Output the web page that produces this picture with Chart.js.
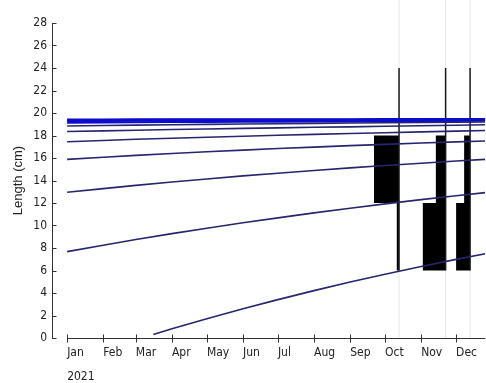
<!DOCTYPE html>
<html>
<head>
<meta charset="utf-8">
<script src="https://cdn.jsdelivr.net/npm/chart.js@4.4.0/dist/chart.umd.min.js"></script>
<style>
  html, body { margin: 0; padding: 0; background: #fff; }
  canvas { display: block; }
</style>
</head>
<body>
<canvas id="chart" width="486" height="383"></canvas>
<script>
// Time axis: day of year (0 = 1 Jan 2021) for each month start
const monthStarts = [0, 31, 59, 90, 120, 151, 181, 212, 243, 273, 304, 334];
const monthLabels = ['Jan', 'Feb', 'Mar', 'Apr', 'May', 'Jun', 'Jul', 'Aug', 'Sep', 'Oct', 'Nov', 'Dec'];
const yearLabel = '2021';

// Growth curves (length in cm) sampled at month starts and the last plotted day
const curveDays = [0, 31, 59, 90, 120, 151, 181, 212, 243, 273, 304, 334, 359];
const recruitDays = [74, 90, 120, 151, 181, 212, 243, 273, 304, 334, 359];
const cohort0 = [0.32, 0.82, 1.71, 2.60, 3.41, 4.21, 4.97, 5.67, 6.36, 6.99, 7.49];
const cohort1 = [7.68, 8.25, 8.75, 9.28, 9.76, 10.24, 10.68, 11.12, 11.54, 11.92, 12.30, 12.64, 12.92];
const cohort2 = [12.95, 13.28, 13.57, 13.87, 14.14, 14.41, 14.65, 14.89, 15.12, 15.33, 15.54, 15.73, 15.88];
const cohort3 = [15.88, 16.07, 16.23, 16.40, 16.55, 16.70, 16.84, 16.97, 17.10, 17.21, 17.33, 17.43, 17.51];
const cohort4 = [17.45, 17.56, 17.66, 17.76, 17.85, 17.94, 18.02, 18.10, 18.18, 18.25, 18.32, 18.39, 18.45];
const cohort5 = [18.35, 18.41, 18.47, 18.53, 18.58, 18.63, 18.68, 18.73, 18.77, 18.82, 18.86, 18.91, 18.95];
const cohort6 = [18.85, 18.89, 18.92, 18.96, 18.99, 19.02, 19.05, 19.08, 19.11, 19.13, 19.16, 19.18, 19.20];
const cohort7 = [19.14, 19.16, 19.17, 19.19, 19.20, 19.22, 19.23, 19.24, 19.25, 19.26, 19.28, 19.29, 19.30];
const cohort8 = [19.28, 19.29, 19.30, 19.31, 19.32, 19.33, 19.33, 19.34, 19.35, 19.36, 19.36, 19.37, 19.38];
const cohort9 = [19.37, 19.38, 19.38, 19.39, 19.39, 19.40, 19.40, 19.41, 19.41, 19.42, 19.42, 19.43, 19.43];
const cohort10 = [19.43, 19.43, 19.44, 19.44, 19.44, 19.45, 19.45, 19.45, 19.45, 19.46, 19.46, 19.46, 19.46];

// Length-frequency samples: sampling day, length classes (cm) and frequency per class
const sampleDays = [285, 325, 346];
const classEdges = [6, 12, 18, 24];
const sampleFreq = [
  [1.0, 10.0, 0],
  [9.2, 4.0, 0],
  [5.6, 2.4, 0]
];
const daysPerFreqUnit = 2.15;

const narrowFont = "'Liberation Sans Narrow', 'DejaVu Sans Condensed', 'Arial Narrow', sans-serif";
const navy = 'rgb(38,38,112)';
const brightBlue = 'rgb(12,12,205)';

const datasets = [];

// faint sampling-date guides
sampleDays.forEach(d => {
  datasets.push({
    data: [{x: d, y: 0}, {x: d, y: 30.2}],
    borderColor: '#e6e6e6', borderWidth: 1, pointRadius: 0, fill: false, clip: false, order: 5
  });
});

// histogram bars, extending left of each sampling date
sampleDays.forEach((d, s) => {
  sampleFreq[s].forEach((f, b) => {
    if (f <= 0) return;
    datasets.push({
      data: [{x: d - f * daysPerFreqUnit, y: classEdges[b + 1]}, {x: d, y: classEdges[b + 1]}],
      borderColor: 'rgba(0,0,0,0)', backgroundColor: '#000', borderWidth: 1,
      pointRadius: 0, fill: {value: classEdges[b]}, order: 4
    });
  });
});

// histogram baselines
sampleDays.forEach(d => {
  datasets.push({
    data: [{x: d, y: classEdges[0]}, {x: d, y: classEdges[classEdges.length - 1]}],
    borderColor: '#1a1a1a', borderWidth: 1.5, pointRadius: 0, fill: false, order: 3
  });
});

function curve(days, values, color, width) {
  return {
    data: days.map((d, i) => ({x: d, y: values[i]})),
    borderColor: color, borderWidth: width, pointRadius: 0, fill: false, order: 1
  };
}

datasets.push(curve(recruitDays, cohort0, navy, 1.6));
[cohort1, cohort2, cohort3, cohort4, cohort5, cohort6].forEach(c => datasets.push(curve(curveDays, c, navy, 1.6)));
[cohort7, cohort8, cohort9, cohort10].forEach(c => datasets.push(curve(curveDays, c, brightBlue, 2)));

// x axis line starting at 1 Jan, month ticks across the axis, inward y ticks
const axisMarks = {
  id: 'axisMarks',
  afterDraw(chart) {
    const {ctx, scales: {x, y}} = chart;
    ctx.save();
    ctx.strokeStyle = '#333';
    ctx.lineWidth = 1;
    ctx.beginPath();
    const y0 = Math.round(y.getPixelForValue(0)) + 0.5;
    ctx.moveTo(x.getPixelForValue(monthStarts[0]), y0);
    ctx.lineTo(x.right, y0);
    x.ticks.forEach(t => {
      const px = Math.round(x.getPixelForValue(t.value)) + 0.5;
      ctx.moveTo(px, y0 - 4);
      ctx.lineTo(px, y0 + 4);
    });
    const xl = Math.round(y.right) + 0.5;
    y.ticks.forEach(t => {
      const py = Math.round(y.getPixelForValue(t.value)) + 0.5;
      ctx.moveTo(xl, py);
      ctx.lineTo(xl + 4, py);
    });
    ctx.stroke();
    ctx.restore();
  }
};

new Chart(document.getElementById('chart'), {
  type: 'line',
  data: {datasets},
  options: {
    responsive: false,
    animation: false,
    parsing: true,
    layout: {padding: {top: 23, right: 0, bottom: 0, left: 0}},
    plugins: {legend: {display: false}, tooltip: {enabled: false}},
    scales: {
      x: {
        type: 'linear',
        min: -13,
        max: 359,
        afterBuildTicks: s => { s.ticks = monthStarts.map(v => ({value: v})); },
        afterFit: s => { s.height = 45; },
        grid: {display: false, drawTicks: false},
        border: {display: false},
        ticks: {
          autoSkip: false, maxRotation: 0, align: 'start', padding: 9, color: '#222',
          font: {family: narrowFont, size: 12, lineHeight: 1},
          callback: (v, i) => i === 0 ? [monthLabels[0], '', yearLabel] : monthLabels[i]
        }
      },
      y: {
        type: 'linear',
        min: 0,
        max: 28,
        afterFit: s => { s.width = 52; },
        grid: {display: false, drawTicks: false},
        border: {display: true, color: '#333', width: 1},
        ticks: {stepSize: 2, padding: 5, color: '#222', font: {family: narrowFont, size: 12}},
        title: {
          display: true, text: 'Length (cm)', color: '#222',
          font: {family: "'Liberation Sans', Arial, sans-serif", size: 13},
          padding: {top: 11, bottom: 0}
        }
      }
    }
  },
  plugins: [axisMarks]
});
</script>
</body>
</html>
